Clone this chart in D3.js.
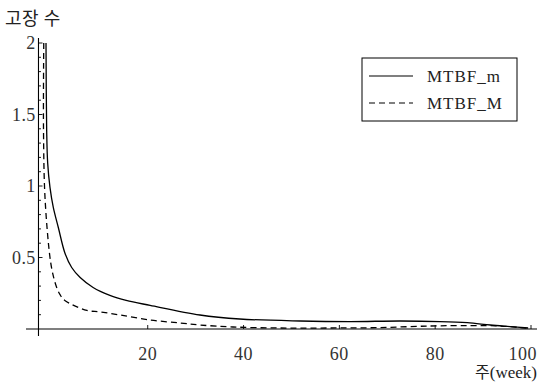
<!DOCTYPE html>
<html>
<head>
<meta charset="utf-8">
<script src="https://cdn.jsdelivr.net/npm/d3@7"></script>
<style>
  html, body { margin: 0; padding: 0; background: #fff; }
  svg { display: block; }
</style>
</head>
<body>
<svg id="chart" width="545" height="385"></svg>
<script>
// Failure count per week for the two MTBF estimates
const weeksM = [-1.23, -1.09, -0.88, -0.4, 0.29, 1.34, 2.73, 4.13, 5.9, 8.6, 12.1, 15.5, 20.5, 30.9, 39.2, 51.8, 62.2, 72.7, 81, 86.7, 91.5, 95.6, 99.4];
const mtbfLow = [2.0, 1.39, 1.16, 0.99, 0.85, 0.71, 0.53, 0.43, 0.36, 0.29, 0.235, 0.2, 0.165, 0.098, 0.07, 0.056, 0.052, 0.056, 0.052, 0.044, 0.028, 0.017, 0.007];

const weeksD = [-1.7, -1.75, -1.44, -0.4, 0.23, 1.0, 1.7, 2.7, 7.3, 10, 14.2, 20.5, 26.7, 30.9, 37.8, 47.6, 58, 68.5, 79, 87.3, 93.5, 97.7, 99.8];
const mtbfHigh = [2.0, 1.39, 0.92, 0.5, 0.38, 0.29, 0.24, 0.2, 0.13, 0.12, 0.098, 0.063, 0.042, 0.028, 0.014, 0.007, 0.007, 0.01, 0.021, 0.024, 0.021, 0.01, 0.003];

const xTicks = [20, 40, 60, 80, 100];
const yTicks = [0.5, 1, 1.5, 2];
const yMinorTicks = d3.range(1, 21).map(d => d / 10);
const seriesNames = ["MTBF_m", "MTBF_M"];

const svg = d3.select("#chart");
const x = d3.scaleLinear().domain([0, 100]).range([51.9, 531]);
const y = d3.scaleLinear().domain([0, 2]).range([329, 43]);
const xOrigin = -2.8;

const serif = "'Liberation Serif', 'DejaVu Serif', serif";
const cjk = "'Noto Sans CJK KR', sans-serif";

// x axis line and ticks
svg.append("line")
  .attr("x1", 26).attr("x2", 537)
  .attr("y1", y(0)).attr("y2", y(0))
  .attr("stroke", "#000").attr("stroke-width", 1.1);
svg.selectAll(".xt").data(xTicks).enter().append("line")
  .attr("x1", d => x(d)).attr("x2", d => x(d))
  .attr("y1", y(0)).attr("y2", y(0) - 4)
  .attr("stroke", "#000").attr("stroke-width", 0.9);
svg.selectAll(".xl").data(xTicks).enter().append("text")
  .attr("x", d => d === 100 ? 537 : x(d)).attr("y", 360)
  .attr("text-anchor", d => d === 100 ? "end" : "middle")
  .attr("font-family", serif).attr("font-size", 18).attr("letter-spacing", 0.5).attr("fill", "#333")
  .text(d => d);

// y axis line and ticks
const ax = x(xOrigin);
svg.append("line")
  .attr("x1", ax).attr("x2", ax)
  .attr("y1", 38).attr("y2", 336)
  .attr("stroke", "#000").attr("stroke-width", 1.1);
svg.selectAll(".ymt").data(yMinorTicks).enter().append("line")
  .attr("x1", ax).attr("x2", d => ax + (yTicks.includes(d) ? 4 : 2.5))
  .attr("y1", d => y(d)).attr("y2", d => y(d))
  .attr("stroke", "#000").attr("stroke-width", 0.9);
svg.selectAll(".yl").data(yTicks).enter().append("text")
  .attr("x", ax - 3).attr("y", d => y(d) + 6)
  .attr("text-anchor", "end")
  .attr("font-family", serif).attr("font-size", 18).attr("letter-spacing", 0.3).attr("fill", "#333")
  .text(d => d);

// axis titles
svg.append("text")
  .attr("x", 5).attr("y", 25)
  .attr("font-family", cjk).attr("font-size", 18).attr("letter-spacing", 0.5).attr("fill", "#222")
  .text("고장 수");
const xt = svg.append("text")
  .attr("x", 537).attr("y", 378)
  .attr("text-anchor", "end").attr("fill", "#222");
xt.append("tspan").attr("font-family", cjk).attr("font-size", 16).text("주");
xt.append("tspan").attr("font-family", serif).attr("font-size", 17).text("(week)");

// curves
const line = d3.line()
  .x(d => x(d[0])).y(d => y(d[1]))
  .curve(d3.curveCatmullRom.alpha(0.5));

svg.append("path")
  .datum(weeksM.map((w, i) => [w, mtbfLow[i]]))
  .attr("d", line)
  .attr("fill", "none").attr("stroke", "#000").attr("stroke-width", 1.3);

svg.append("path")
  .datum(weeksD.map((w, i) => [w, mtbfHigh[i]]))
  .attr("d", line)
  .attr("fill", "none").attr("stroke", "#000").attr("stroke-width", 1.3)
  .attr("stroke-dasharray", "6,4");

// legend
const lg = svg.append("g");
lg.append("rect")
  .attr("x", 362).attr("y", 58).attr("width", 155).attr("height", 63)
  .attr("fill", "#fff").attr("stroke", "#000").attr("stroke-width", 1);
const dashes = [null, "6,4"];
seriesNames.forEach((name, i) => {
  const ly = 76 + i * 27;
  lg.append("line")
    .attr("x1", 369).attr("x2", 413)
    .attr("y1", ly).attr("y2", ly)
    .attr("stroke", "#000").attr("stroke-width", 1.2)
    .attr("stroke-dasharray", dashes[i]);
  lg.append("text")
    .attr("x", 427).attr("y", ly + 6)
    .attr("font-family", serif).attr("font-size", 17).attr("letter-spacing", 1).attr("fill", "#222")
    .text(name);
});
</script>
</body>
</html>
